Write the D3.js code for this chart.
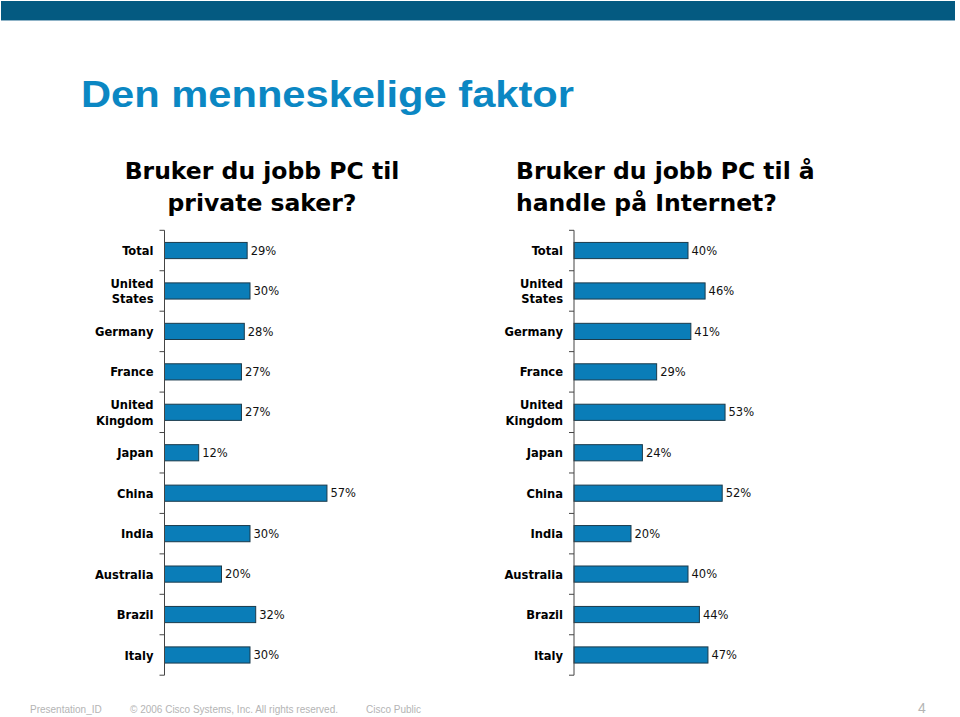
<!DOCTYPE html>
<html lang="no">
<head>
<meta charset="utf-8">
<title>Den menneskelige faktor</title>
<script src="https://cdn.jsdelivr.net/npm/d3@7/dist/d3.min.js"></script>
<style>
  body { margin: 0; background: #fff; }
  svg { display: block; }
  .cat { font-family: 'DejaVu Sans Condensed', 'DejaVu Sans', sans-serif; font-stretch: condensed; font-weight: bold; font-size: 12.8px; fill: #000; }
  .val { font-family: 'DejaVu Sans', Verdana, sans-serif; font-size: 11.5px; fill: #111; }
  .qtitle { font-family: Verdana, 'DejaVu Sans', sans-serif; font-weight: bold; font-size: 23.5px; fill: #000; }
  .foot { font-family: 'Liberation Sans', Arial, sans-serif; font-size: 10px; fill: #b4b4b4; }
</style>
</head>
<body>
<script>
// data
const categories = ["Total", "United States", "Germany", "France", "United Kingdom",
  "Japan", "China", "India", "Australia", "Brazil", "Italy"];
const privateUse = [29, 30, 28, 27, 27, 12, 57, 30, 20, 32, 30];
const shopping   = [40, 46, 41, 29, 53, 24, 52, 20, 40, 44, 47];
const titleLeft  = ["Bruker du jobb PC til", "private saker?"];
const titleRight = ["Bruker du jobb PC til å", "handle på Internet?"];

const w = 960, h = 717;
const svg = d3.select("body").append("svg").attr("width", w).attr("height", h);

// top banner
svg.append("rect").attr("x", 1).attr("y", 1).attr("width", 954).attr("height", 19)
  .attr("fill", "#045a81");
svg.append("line").attr("x1", 1).attr("x2", 955).attr("y1", 20.5).attr("y2", 20.5)
  .attr("stroke", "#8fb3c7").attr("stroke-width", 1);

// main title
svg.append("text").attr("x", 81).attr("y", 107)
  .attr("textLength", 493).attr("lengthAdjust", "spacingAndGlyphs")
  .style("font-family", "'Liberation Sans', Arial, sans-serif")
  .style("font-weight", "bold").style("font-size", "36px").style("fill", "#0b87c3")
  .text("Den menneskelige faktor");

// question titles
svg.append("text").attr("class", "qtitle").attr("text-anchor", "middle")
  .selectAll("tspan").data(titleLeft).join("tspan")
  .attr("x", 262).attr("y", (d, i) => 179 + i * 32).text(d => d);
svg.append("text").attr("class", "qtitle").attr("text-anchor", "start")
  .selectAll("tspan").data(titleRight).join("tspan")
  .attr("x", 516).attr("y", (d, i) => 179 + i * 32).text(d => d);

const y = d3.scaleBand().domain(categories).range([230.3, 675.2])
  .paddingInner(0.6).paddingOuter(0.3);
const x = d3.scaleLinear().domain([0, 100]).range([0, 285]);

function drawChart(x0, values) {
  const g = svg.append("g").attr("transform", `translate(${x0},0)`);

  g.selectAll("rect.bar").data(values).join("rect")
    .attr("class", "bar")
    .attr("x", 0)
    .attr("y", (d, i) => y(categories[i]))
    .attr("width", d => x(d))
    .attr("height", y.bandwidth())
    .attr("fill", "#0a7db8")
    .attr("stroke", "#1b3b4c")
    .attr("stroke-width", 1);

  g.selectAll("text.val").data(values).join("text")
    .attr("class", "val")
    .attr("x", d => x(d) + 3.5)
    .attr("y", (d, i) => y(categories[i]) + y.bandwidth() / 2)
    .attr("dy", "0.36em")
    .text(d => d + "%");

  // axis line with ticks at band boundaries
  const r = y.range();
  g.append("line").attr("x1", 0).attr("x2", 0).attr("y1", r[0]).attr("y2", r[1])
    .attr("stroke", "#444").attr("stroke-width", 1);
  g.selectAll("line.tick").data(d3.range(categories.length + 1)).join("line")
    .attr("class", "tick")
    .attr("x1", -5).attr("x2", 0)
    .attr("y1", i => r[0] + i * y.step())
    .attr("y2", i => r[0] + i * y.step())
    .attr("stroke", "#444").attr("stroke-width", 1);

  // category labels
  const lab = g.selectAll("text.cat").data(categories).join("text")
    .attr("class", "cat").attr("text-anchor", "end");
  lab.each(function (d) {
    const parts = d.split(" ");
    const lines = (d.startsWith("United")) ? parts : [d];
    const cy = y(d) + y.bandwidth() / 2;
    const lh = 15.5;
    d3.select(this).selectAll("tspan").data(lines).join("tspan")
      .attr("x", -11)
      .attr("y", (t, j) => cy + (j - (lines.length - 1) / 2) * lh)
      .attr("dy", "0.36em")
      .text(t => t);
  });
}

drawChart(164.5, privateUse);
drawChart(574, shopping);

// footer
svg.append("text").attr("class", "foot").attr("x", 30).attr("y", 713).text("Presentation_ID");
svg.append("text").attr("class", "foot").attr("x", 130).attr("y", 713)
  .text("© 2006 Cisco Systems, Inc. All rights reserved.");
svg.append("text").attr("class", "foot").attr("x", 366).attr("y", 713).text("Cisco Public");
svg.append("text").attr("class", "foot").attr("x", 918).attr("y", 713)
  .style("font-size", "14px").text("4");
</script>
</body>
</html>
